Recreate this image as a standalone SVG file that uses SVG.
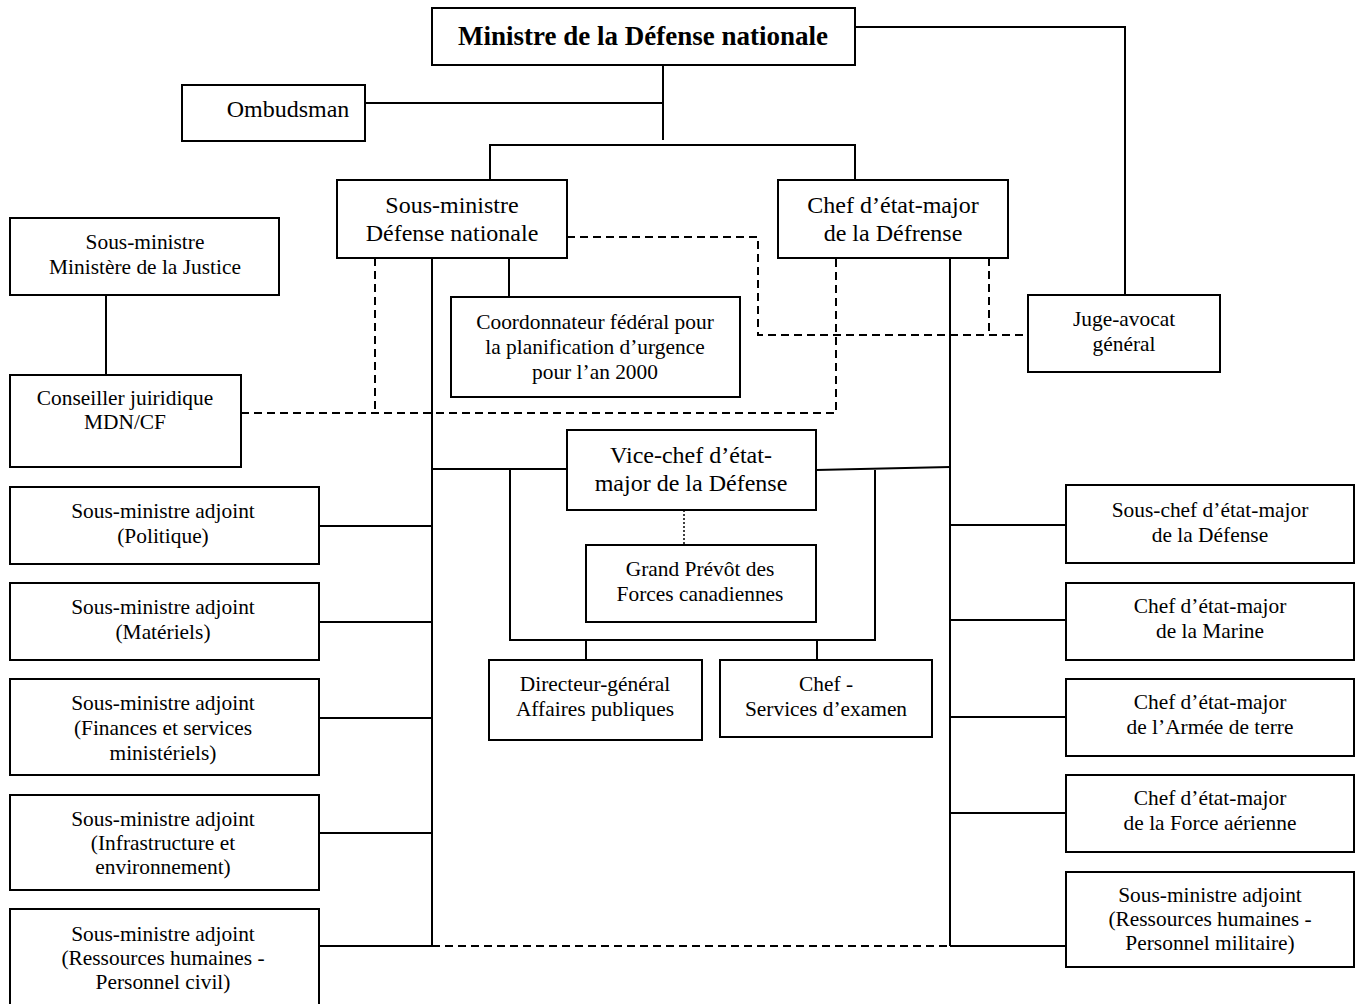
<svg xmlns="http://www.w3.org/2000/svg" width="1356" height="1004" viewBox="0 0 1356 1004">
<style>
.box{fill:#fff;stroke:#000;stroke-width:2}
.t{font-family:"Liberation Serif","Times New Roman",serif;fill:#000;text-anchor:middle}
.l{font-size:24px}
.s{font-size:21.4px}
.b{font-size:27px;font-weight:bold}
.c{fill:none;stroke:#000;stroke-width:2}
.d{fill:none;stroke:#000;stroke-width:2;stroke-dasharray:8,5}
.p{fill:none;stroke:#000;stroke-width:1.5;stroke-dasharray:2,2}
</style>
<rect width="1356" height="1004" fill="#fff"/>
<g id="connectors">
<path class="c" d="M663 65V140M365 103H663M490 180V145H855V180"/>
<path class="c" d="M855 27H1125V295"/>
<path class="c" d="M106 295V375"/>
<path class="c" d="M509 258V297"/>
<path class="c" d="M432 258V946M319 526H432M319 622H432M319 718H432M319 833H432M319 946H432"/>
<path class="c" d="M950 258V946M950 525H1066M950 620H1066M950 717H1066M950 813H1066M950 946H1066"/>
<path class="d" d="M432 946H950"/>
<path class="d" d="M567 237H758V335H1028M989 258V335"/>
<path class="d" d="M375 258V413M241 413H836V258"/>
<path class="c" d="M432 469H567M816 470L950 467"/>
<path class="c" d="M510 469V640H875V470M586 640V660M817 640V660"/>
<path class="p" d="M684 510V545"/>
</g>
<g id="ministre"><rect class="box" x="432" y="8" width="423" height="57"/><text class="t b" x="643" y="45">Ministre de la Défense nationale</text></g>
<g id="ombudsman"><rect class="box" x="182" y="85" width="183" height="56"/><text class="t l" x="288" y="117">Ombudsman</text></g>
<g id="sous-ministre"><rect class="box" x="337" y="180" width="230" height="78"/><text class="t l" x="452" y="213">Sous-ministre</text><text class="t l" x="452" y="241">Défense nationale</text></g>
<g id="cemd"><rect class="box" x="778" y="180" width="230" height="78"/><text class="t l" x="893" y="213">Chef d’état-major</text><text class="t l" x="893" y="241">de la Défrense</text></g>
<g id="sm-justice"><rect class="box" x="10" y="218" width="269" height="77"/><text class="t s" x="145" y="249">Sous-ministre</text><text class="t s" x="145" y="274">Ministère de la Justice</text></g>
<g id="conseiller"><rect class="box" x="10" y="375" width="231" height="92"/><text class="t s" x="125" y="405">Conseiller juiridique</text><text class="t s" x="125" y="429">MDN/CF</text></g>
<g id="coordonnateur"><rect class="box" x="451" y="297" width="289" height="100"/><text class="t s" x="595" y="329">Coordonnateur fédéral pour</text><text class="t s" x="595" y="354">la planification d’urgence</text><text class="t s" x="595" y="379">pour l’an 2000</text></g>
<g id="jag"><rect class="box" x="1028" y="295" width="192" height="77"/><text class="t s" x="1124" y="326">Juge-avocat</text><text class="t s" x="1124" y="351">général</text></g>
<g id="vcemd"><rect class="box" x="567" y="430" width="249" height="80"/><text class="t l" x="691" y="463">Vice-chef d’état-</text><text class="t l" x="691" y="491">major de la Défense</text></g>
<g id="gpfc"><rect class="box" x="586" y="545" width="230" height="77"/><text class="t s" x="700" y="576">Grand Prévôt des</text><text class="t s" x="700" y="601">Forces canadiennes</text></g>
<g id="dgap"><rect class="box" x="489" y="660" width="213" height="80"/><text class="t s" x="595" y="691">Directeur-général</text><text class="t s" x="595" y="716">Affaires publiques</text></g>
<g id="csex"><rect class="box" x="720" y="660" width="212" height="77"/><text class="t s" x="826" y="691">Chef -</text><text class="t s" x="826" y="716">Services d’examen</text></g>
<g id="sma-pol"><rect class="box" x="10" y="487" width="309" height="77"/><text class="t s" x="163" y="518">Sous-ministre adjoint</text><text class="t s" x="163" y="543">(Politique)</text></g>
<g id="sma-mat"><rect class="box" x="10" y="583" width="309" height="77"/><text class="t s" x="163" y="614">Sous-ministre adjoint</text><text class="t s" x="163" y="639">(Matériels)</text></g>
<g id="sma-fin"><rect class="box" x="10" y="679" width="309" height="96"/><text class="t s" x="163" y="710">Sous-ministre adjoint</text><text class="t s" x="163" y="735">(Finances et services</text><text class="t s" x="163" y="760">ministériels)</text></g>
<g id="sma-ie"><rect class="box" x="10" y="795" width="309" height="95"/><text class="t s" x="163" y="826">Sous-ministre adjoint</text><text class="t s" x="163" y="850">(Infrastructure et</text><text class="t s" x="163" y="874">environnement)</text></g>
<g id="sma-rhc"><rect class="box" x="10" y="909" width="309" height="96"/><text class="t s" x="163" y="941">Sous-ministre adjoint</text><text class="t s" x="163" y="965">(Ressources humaines -</text><text class="t s" x="163" y="989">Personnel civil)</text></g>
<g id="scemd"><rect class="box" x="1066" y="485" width="288" height="78"/><text class="t s" x="1210" y="517">Sous-chef d’état-major</text><text class="t s" x="1210" y="542">de la Défense</text></g>
<g id="cemm"><rect class="box" x="1066" y="583" width="288" height="77"/><text class="t s" x="1210" y="613">Chef d’état-major</text><text class="t s" x="1210" y="638">de la Marine</text></g>
<g id="cemat"><rect class="box" x="1066" y="679" width="288" height="77"/><text class="t s" x="1210" y="709">Chef d’état-major</text><text class="t s" x="1210" y="734">de l’Armée de terre</text></g>
<g id="cema"><rect class="box" x="1066" y="775" width="288" height="77"/><text class="t s" x="1210" y="805">Chef d’état-major</text><text class="t s" x="1210" y="830">de la Force aérienne</text></g>
<g id="sma-rhm"><rect class="box" x="1066" y="872" width="288" height="95"/><text class="t s" x="1210" y="902">Sous-ministre adjoint</text><text class="t s" x="1210" y="926">(Ressources humaines -</text><text class="t s" x="1210" y="950">Personnel militaire)</text></g>
</svg>
